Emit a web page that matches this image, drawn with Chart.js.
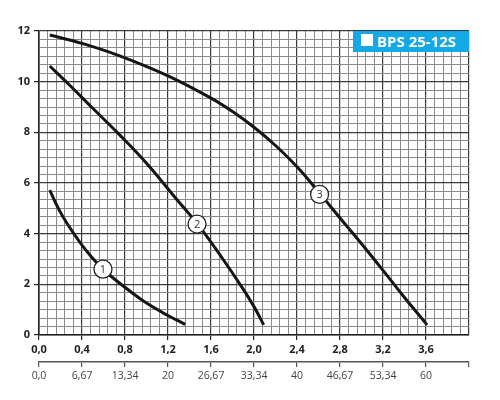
<!DOCTYPE html>
<html>
<head>
<meta charset="utf-8">
<script src="https://cdn.jsdelivr.net/npm/chart.js@4"></script>
<style>
html,body{margin:0;padding:0;background:#fff;}
#wrap{width:500px;height:400px;position:relative;}
</style>
</head>
<body>
<div id="wrap"><canvas id="c" width="500" height="400"></canvas></div>
<script>
// ---- data ----
const curve1X = [0.1, 0.18, 0.26, 0.41, 0.57, 0.69, 0.85, 1.0, 1.19, 1.36];
const curve1Y = [5.72, 5.0, 4.41, 3.49, 2.7, 2.25, 1.72, 1.26, 0.79, 0.42];
const curve2X = [0.1, 0.3, 0.5, 0.75, 1.0, 1.28, 1.5, 1.71, 1.87, 2.0, 2.09];
const curve2Y = [10.62, 9.8, 8.95, 7.9, 6.78, 5.36, 4.24, 3.0, 2.0, 1.12, 0.4];
const curve3X = [0.1, 0.4, 0.75, 1.2, 1.6, 1.8, 2.0, 2.2, 2.4, 2.61, 2.8, 3.0, 3.2, 3.4, 3.61];
const curve3Y = [11.84, 11.51, 11.02, 10.23, 9.35, 8.82, 8.2, 7.48, 6.64, 5.6, 4.62, 3.6, 2.55, 1.48, 0.4];
const markerText = ['1', '2', '3'];
const markerX = [0.595, 1.47, 2.61];
const markerY = [2.6, 4.38, 5.55];
const xMax = 4.0;
const xMinorStep = 0.08;
const xMajorStep = 0.4;
const yMax = 12;
const yMinorStep = 1 / 3;
const yMajorStep = 2;
const xTickLabels = ['0,0','0,4','0,8','1,2','1,6','2,0','2,4','2,8','3,2','3,6'];
const x2Values = [0, 6.67, 13.34, 20, 26.67, 33.34, 40, 46.67, 53.34, 60];
const x2Labels = ['0,0','6,67','13,34','20','26,67','33,34','40','46,67','53,34','60'];
const x2Max = 66.67;
const title = 'BPS 25-12S';

function zip(xs, ys){ return xs.map((x,i)=>({x:x, y:ys[i]})); }
function isMajor(v, step){ const r = v/step; return Math.abs(r - Math.round(r)) < 1e-6; }

const titlePlugin = {
  id: 'extras',
  afterDatasetsDraw(chart){
    const ctx = chart.ctx, xs = chart.scales.x, ys = chart.scales.y;
    for (let i = 0; i < markerText.length; i++){
      const px = xs.getPixelForValue(markerX[i]);
      const py = ys.getPixelForValue(markerY[i]);
      ctx.save();
      ctx.beginPath();
      ctx.arc(px, py, 9, 0, Math.PI*2);
      ctx.fillStyle = '#fff';
      ctx.fill();
      ctx.lineWidth = 1.3;
      ctx.strokeStyle = '#222';
      ctx.stroke();
      ctx.fillStyle = '#333';
      ctx.font = '11px "Open Sans", sans-serif';
      ctx.textAlign = 'center';
      ctx.textBaseline = 'middle';
      ctx.fillText(markerText[i], px, py + 0.5);
      ctx.restore();
    }
  },
  afterDraw(chart){
    const ctx = chart.ctx, a = chart.chartArea;
    ctx.save();
    const bx = a.right - 116, by = a.top, bw = 116, bh = 21;
    ctx.fillStyle = '#14a9e6';
    ctx.fillRect(bx, by, bw, bh);
    ctx.fillStyle = '#fff';
    ctx.fillRect(bx + 8, by + 3, 12, 12);
    ctx.font = 'bold 15px "Open Sans", sans-serif';
    ctx.textBaseline = 'middle';
    ctx.textAlign = 'left';
    ctx.fillText(title, bx + 24, by + bh/2 + 1);
    ctx.restore();
  }
};

new Chart(document.getElementById('c'), {
  type: 'line',
  data: {
    datasets: [
      {data: zip(curve1X, curve1Y)},
      {data: zip(curve2X, curve2Y)},
      {data: zip(curve3X, curve3Y)}
    ].map(d => Object.assign(d, {
      borderColor: '#151515', borderWidth: 3, pointRadius: 0,
      tension: 0.4, fill: false, xAxisID: 'x', yAxisID: 'y'
    }))
  },
  options: {
    responsive: false,
    animation: false,
    events: [],
    layout: {padding: {top: 31, right: 31, bottom: 8, left: 0}},
    plugins: {legend: {display: false}, tooltip: {enabled: false}},
    scales: {
      x: {
        type: 'linear', position: 'bottom', min: 0, max: xMax,
        afterBuildTicks(s){
          const t = []; const n = Math.round(xMax / xMinorStep);
          for (let i = 0; i <= n; i++) t.push({value: +(i * xMinorStep).toFixed(4)});
          s.ticks = t;
        },
        afterFit(s){ s.height = 27; },
        ticks: {
          autoSkip: false, maxRotation: 0, padding: 3, color: '#222',
          font: {family: '"Open Sans", sans-serif', size: 11, weight: 'bold'},
          callback(v){
            if (!isMajor(v, xMajorStep)) return '';
            const k = Math.round(v / xMajorStep);
            return k < xTickLabels.length ? xTickLabels[k] : '';
          }
        },
        grid: {
          color: c => isMajor(c.tick.value, xMajorStep) ? '#3a3a3a' : '#8a8a8a',
          lineWidth: c => isMajor(c.tick.value, xMajorStep) ? 1.2 : 1,
          tickColor: c => (isMajor(c.tick.value, xMajorStep) && c.tick.value < xMax - 1e-6) ? '#222' : 'rgba(0,0,0,0)',
          tickLength: 5
        },
        border: {color: '#222', width: 1.6}
      },
      x2: {
        type: 'linear', position: 'bottom', min: 0, max: x2Max,
        afterBuildTicks(s){
          s.ticks = x2Values.map(v => ({value: v})).concat([{value: x2Max}]);
        },
        afterFit(s){ s.height = 30; },
        ticks: {
          autoSkip: false, maxRotation: 0, padding: 3, color: '#444',
          font: {family: '"Open Sans", sans-serif', size: 10.5},
          callback(v, i){ return i < x2Labels.length ? x2Labels[i] : ''; }
        },
        grid: {drawOnChartArea: false, color: '#555', tickLength: 5, lineWidth: 1.2},
        border: {color: '#555', width: 1.5}
      },
      y: {
        type: 'linear', min: 0, max: yMax,
        afterBuildTicks(s){
          const t = []; const n = Math.round(yMax / yMinorStep);
          for (let i = 0; i <= n; i++) t.push({value: i * yMinorStep});
          s.ticks = t;
        },
        afterFit(s){ s.width = 39; },
        ticks: {
          autoSkip: false, padding: 4, color: '#222',
          font: {family: '"Open Sans", sans-serif', size: 11, weight: 'bold'},
          callback(v){ return isMajor(v, yMajorStep) ? String(Math.round(v)) : ''; }
        },
        grid: {
          color: c => isMajor(c.tick.value, yMajorStep) ? '#3a3a3a' : '#8a8a8a',
          lineWidth: c => isMajor(c.tick.value, yMajorStep) ? 1.2 : 1,
          tickColor: c => isMajor(c.tick.value, yMajorStep) ? '#222' : 'rgba(0,0,0,0)',
          tickLength: 5
        },
        border: {color: '#222', width: 1.6}
      }
    }
  },
  plugins: [titlePlugin]
});
</script>
</body>
</html>
